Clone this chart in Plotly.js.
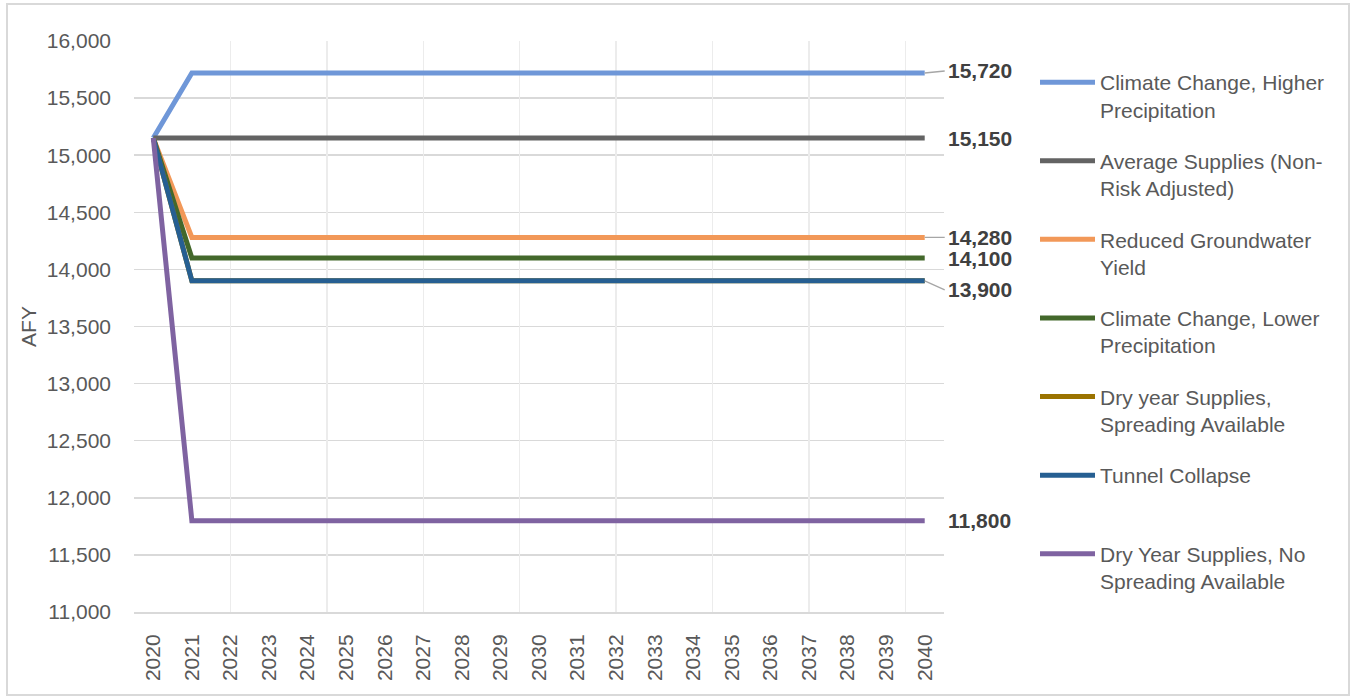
<!DOCTYPE html>
<html>
<head>
<meta charset="utf-8">
<script src="https://cdn.plot.ly/plotly-3.0.1.min.js"></script>
<style>
html,body{margin:0;padding:0;background:#fff;}
#frame{position:absolute;left:6px;top:3px;width:1344px;height:693px;border:2px solid #d9d9d9;box-sizing:border-box;}
#chart{position:absolute;left:0;top:0;width:1356px;height:700px;}
</style>
</head>
<body>
<div id="frame"></div>
<div id="chart"></div>
<script>
const years = ['2020','2021','2022','2023','2024','2025','2026','2027','2028','2029','2030','2031','2032','2033','2034','2035','2036','2037','2038','2039','2040'];

const climateHigher = [15150,15720,15720,15720,15720,15720,15720,15720,15720,15720,15720,15720,15720,15720,15720,15720,15720,15720,15720,15720,15720];
const averageSupplies = [15150,15150,15150,15150,15150,15150,15150,15150,15150,15150,15150,15150,15150,15150,15150,15150,15150,15150,15150,15150,15150];
const reducedGroundwater = [15150,14280,14280,14280,14280,14280,14280,14280,14280,14280,14280,14280,14280,14280,14280,14280,14280,14280,14280,14280,14280];
const climateLower = [15150,14100,14100,14100,14100,14100,14100,14100,14100,14100,14100,14100,14100,14100,14100,14100,14100,14100,14100,14100,14100];
const drySpreading = [15150,13900,13900,13900,13900,13900,13900,13900,13900,13900,13900,13900,13900,13900,13900,13900,13900,13900,13900,13900,13900];
const tunnelCollapse = [15150,13900,13900,13900,13900,13900,13900,13900,13900,13900,13900,13900,13900,13900,13900,13900,13900,13900,13900,13900,13900];
const dryNoSpreading = [15150,11800,11800,11800,11800,11800,11800,11800,11800,11800,11800,11800,11800,11800,11800,11800,11800,11800,11800,11800,11800];

const seriesNames = [
  'Climate Change, Higher<br>Precipitation',
  'Average Supplies (Non-<br>Risk Adjusted)',
  'Reduced Groundwater<br>Yield',
  'Climate Change, Lower<br>Precipitation',
  'Dry year Supplies,<br>Spreading Available',
  'Tunnel Collapse<br>\u00a0',
  'Dry Year Supplies, No<br>Spreading Available'
];
const seriesValues = [climateHigher, averageSupplies, reducedGroundwater, climateLower, drySpreading, tunnelCollapse, dryNoSpreading];
const seriesColors = ['#6f97d8','#636363','#f29858','#43682b','#9b7300','#265f92','#7f63a1'];

// end labels: which series get a label, with small offsets (px) and leader flag
const labelSeries = [0,1,2,3,5,6];
const labelOffsetY = [-2,0,0,1,0,9,0];
const labelLeader = [true,false,true,false,false,true,false];

const traces = seriesValues.map((vals, i) => ({
  type: 'scatter',
  mode: 'lines',
  x: years,
  y: vals,
  name: seriesNames[i],
  legendgroup: 'g' + i,
  line: {color: seriesColors[i], width: 5},
  hoverinfo: 'skip'
}));
// helper trace for the vertical grid overlay axis
traces.push({type:'scatter', mode:'lines', x:[-0.5], y:[null], xaxis:'x2', yaxis:'y', showlegend:false, hoverinfo:'skip'});

const lastIndex = years.length - 1;
const annotations = labelSeries.map(i => {
  const v = seriesValues[i][lastIndex];
  return {
    x: lastIndex,
    y: v,
    xref: 'x', yref: 'y',
    text: '<b>' + v.toLocaleString('en-US') + '</b>',
    showarrow: true,
    arrowhead: 0,
    arrowwidth: 1.3,
    arrowcolor: labelLeader[i] ? '#a6a6a6' : 'rgba(0,0,0,0)',
    ax: 20, ay: labelOffsetY[i],
    xanchor: 'left',
    yanchor: 'middle',
    borderpad: 2,
    font: {family: 'Liberation Sans, Arial, sans-serif', size: 21, color: '#404040'}
  };
});

const layout = {
  width: 1356, height: 700,
  margin: {l: 134, r: 412, t: 41, b: 88},
  paper_bgcolor: 'rgba(0,0,0,0)',
  plot_bgcolor: 'rgba(0,0,0,0)',
  font: {family: 'Liberation Sans, Arial, sans-serif', size: 21, color: '#595959'},
  showlegend: true,
  xaxis: {
    type: 'category',
    range: [-0.5, 20.5],
    tickangle: -90,
    showgrid: false,
    zeroline: false,
    showline: true,
    linecolor: '#d9d9d9',
    linewidth: 2,
    ticks: '',
    ticklabelstandoff: 12,
    tickfont: {size: 21, color: '#595959'}
  },
  xaxis2: {
    overlaying: 'x',
    anchor: 'y',
    range: [-0.5, 20.5],
    tick0: -0.5,
    dtick: 2.5,
    showgrid: true,
    gridcolor: '#ececec',
    gridwidth: 1.5,
    showticklabels: false,
    zeroline: false,
    showline: false,
    ticks: ''
  },
  yaxis: {
    range: [11000, 16000],
    dtick: 500,
    tickformat: ',',
    showgrid: true,
    gridcolor: '#d9d9d9',
    gridwidth: 1.5,
    zeroline: false,
    showline: false,
    ticks: '',
    ticklabelstandoff: 22,
    tickfont: {size: 21, color: '#595959'},
    title: {text: 'AFY', font: {size: 21, color: '#595959'}, standoff: 4}
  },
  legend: {
    xref: 'container', yref: 'container',
    x: 1035/1356, y: 1 - 62/700,
    xanchor: 'left', yanchor: 'top',
    itemwidth: 55,
    valign: 'top',
    tracegroupgap: 21,
    maxheight: 640,
    font: {size: 21, color: '#595959'},
    bgcolor: 'rgba(0,0,0,0)'
  },
  annotations: annotations
};

Plotly.newPlot('chart', traces, layout, {displayModeBar: false, staticPlot: true});
</script>
</body>
</html>
